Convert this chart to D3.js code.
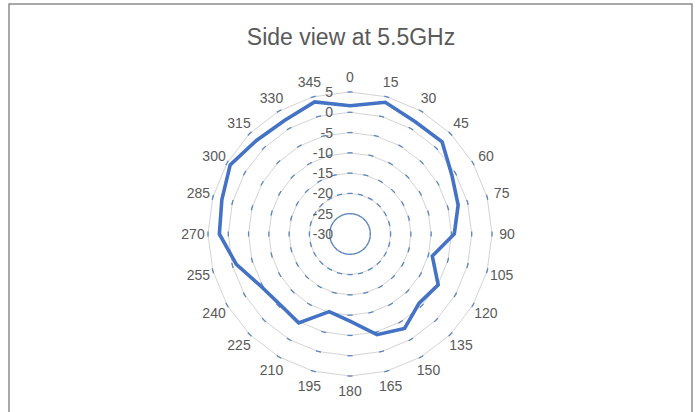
<!DOCTYPE html>
<html>
<head>
<meta charset="utf-8">
<script src="https://cdn.jsdelivr.net/npm/d3@7"></script>
<style>
  body { margin: 0; background: #fff; }
  text { font-family: "Liberation Sans", Arial, sans-serif; fill: #595959; }
</style>
</head>
<body>
<svg id="chart" width="699" height="412"></svg>
<script>
// angles (categories) and measured gain in dB
var angles = [0, 15, 30, 45, 60, 75, 90, 105, 120, 135, 150, 165,
              180, 195, 210, 225, 240, 255, 270, 285, 300, 315, 330, 345];
var gain = [1.6, 3.6, 2.0, 2.1, -1.0, -2.4, -4.3, -9.0, -4.9, -5.9, -3.1, -4.3,
            -8.5, -10.2, -4.7, -5.5, -4.5, -1.0, 2.2, 2.7, 4.1, 2.6, 2.3, 3.7];
var rTicks = [-30, -25, -20, -15, -10, -5, 0, 5];

var svg = d3.select('#chart');
var width = +svg.attr('width');
var cx = 350, cy = 234, outerR = 142;

// frame
svg.append('rect')
    .attr('x', 9).attr('y', 4)
    .attr('width', 683).attr('height', 430)
    .attr('fill', 'none')
    .attr('stroke', '#8c8c8c')
    .attr('stroke-width', 1.5);

svg.append('text').text('Side view at 5.5GHz')
    .attr('x', 351).attr('y', 45)
    .attr('text-anchor', 'middle')
    .style('font-size', '23px');

var scale_r = d3.scaleLinear().domain([-30, 5]).range([0, outerR]);
var scale_a = d3.scaleLinear().domain([0, 360]).range([0, 2 * Math.PI]);

var g = svg.append('g').attr('transform', `translate(${cx},${cy})`);

// grid rings (24-gons)
var ring = d3.lineRadial()
    .angle(d => scale_a(d.a))
    .radius(d => scale_r(d.v))
    .curve(d3.curveLinearClosed);

g.selectAll('.ring').data(rTicks.slice(1)).enter().append('path')
    .attr('class', 'ring')
    .attr('d', v => ring(angles.map(a => ({a: a, v: v}))))
    .attr('fill', 'none')
    .attr('stroke', '#d4d4d4')
    .attr('stroke-width', 1);

// little blue tick dashes on each spoke
var ticks = [];
rTicks.slice(1).forEach(v => angles.forEach(a => ticks.push({a: a, v: v})));
g.selectAll('.tk').data(ticks).enter().append('line')
    .attr('class', 'tk')
    .attr('transform', d => `rotate(${d.a})`)
    .attr('x1', -2.6).attr('x2', 2.6)
    .attr('y1', d => -scale_r(d.v))
    .attr('y2', d => -scale_r(d.v))
    .attr('stroke', '#5a86c0')
    .attr('stroke-width', 1.3);

// data line
var data = angles.map((a, i) => ({a: a, v: gain[i]}));
g.append('path')
    .attr('d', ring(data))
    .attr('fill', 'none')
    .attr('stroke', '#4472c4')
    .attr('stroke-width', 3.6)
    .attr('stroke-linejoin', 'miter');

// category labels
var labR = 157;
g.selectAll('.cat').data(angles).enter().append('text')
    .attr('class', 'cat')
    .text(d => d)
    .attr('x', d => labR * Math.sin(scale_a(d)))
    .attr('y', d => -labR * Math.cos(scale_a(d)))
    .attr('text-anchor', 'middle')
    .attr('dominant-baseline', 'central')
    .style('font-size', '14px');

// radial axis labels
g.selectAll('.rl').data(rTicks).enter().append('text')
    .attr('class', 'rl')
    .text(d => d)
    .attr('x', -17)
    .attr('y', d => -scale_r(d))
    .attr('text-anchor', 'end')
    .attr('dominant-baseline', 'central')
    .style('font-size', '14px');
</script>
</body>
</html>
